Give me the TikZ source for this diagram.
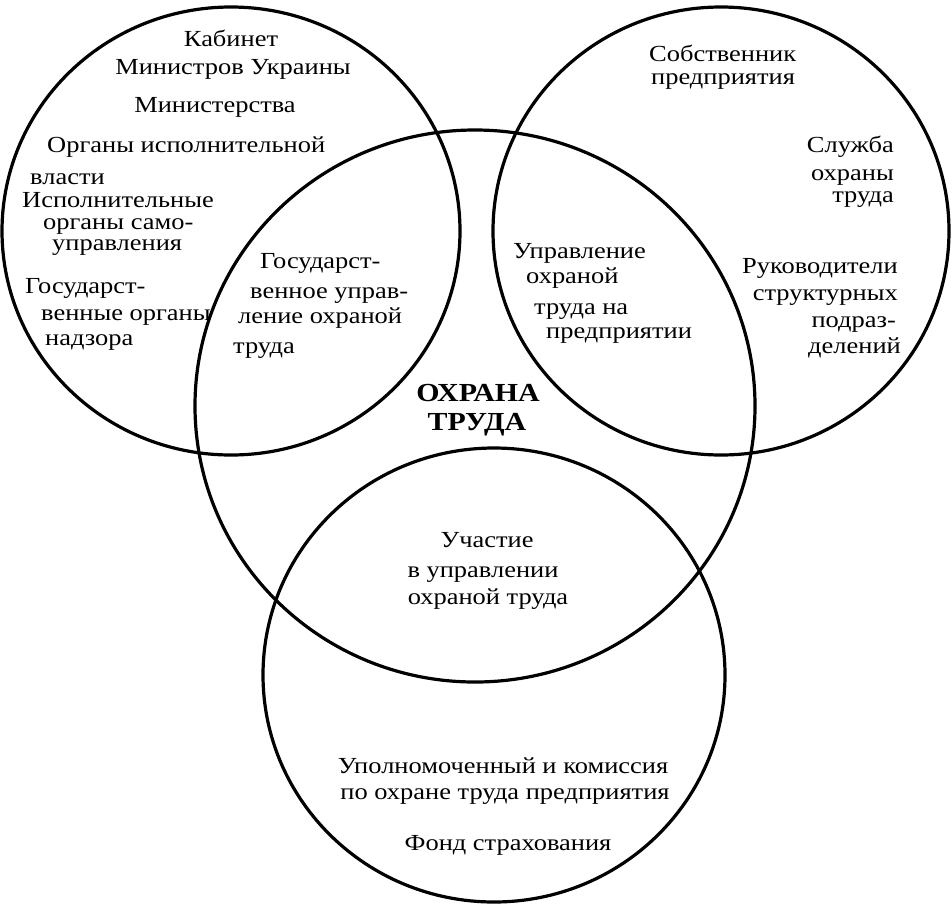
\documentclass[tikz,border=0pt]{standalone}
\usepackage{fontspec}
\setmainfont{Liberation Serif}[FakeStretch=1.15]
\begin{document}
\begin{tikzpicture}[x=1pt,y=-1pt,
  ring/.style={draw=black,line width=3.2pt},
  lbl/.style={inner sep=0pt,font=\fontsize{23}{26}\selectfont},
  lw/.style={lbl,anchor=base west},
  le/.style={lbl,anchor=base east},
  lc/.style={lbl,anchor=base},
  big/.style={inner sep=0pt,anchor=base,font=\fontsize{26}{28}\selectfont\bfseries}]
\useasboundingbox (0,0) rectangle (952,906);
% circles
\draw[ring] (231,231) ellipse [x radius=229pt, y radius=224pt];
\draw[ring] (721,231) ellipse [x radius=228pt, y radius=224pt];
\draw[ring] (475,406) ellipse [x radius=280pt, y radius=276pt];
\draw[ring] (494,675) ellipse [x radius=231pt, y radius=227pt];
% left circle
\node[lc] (a1) at (231,46) {Кабинет};
\node[lc] (a2) at (233,74) {Министров Украины};
\node[lc] (a3) at (215,112) {Министерства};
\node[lw] (a4) at (47,152) {Органы исполнительной};
\node[lw] (a5) at (30,184) {власти};
\node[lw] (a6) at (22,207) {Исполнительные};
\node[lw] (a7) at (43,229) {органы само-};
\node[lw] (a8) at (52,250) {управления};
\node[lw] (a9) at (25,293) {Государст-};
\node[lw] (a10) at (41,320) {венные органы};
\node[lw] (a11) at (45,345) {надзора};
% left-centre overlap
\node[lw] (b1) at (260,268) {Государст-};
\node[lw] (b2) at (250,298) {венное управ-};
\node[lw] (b3) at (238,323) {ление охраной};
\node[lw] (b4) at (233,353) {труда};
% right circle
\node[lw] (c1) at (649,61) {Собственник};
\node[lw] (c2) at (651,84) {предприятия};
\node[le] (c3) at (894,152) {Служба};
\node[le] (c4) at (894,180) {охраны};
\node[le] (c5) at (894,202) {труда};
\node[le] (c6) at (898,273) {Руководители};
\node[le] (c7) at (898,300) {структурных};
\node[le] (c8) at (896,327) {подраз-};
\node[le] (c9) at (901,353) {делений};
% right-centre overlap
\node[lw] (d1) at (513,258) {Управление};
\node[lw] (d2) at (526,283) {охраной};
\node[lw] (d3) at (534,314) {труда на};
\node[lw] (d4) at (546,338) {предприятии};
% centre
\node[big] (e1) at (478,401) {ОХРАНА};
\node[big] (e2) at (477,430) {ТРУДА};
% centre-bottom overlap
\node[lc] (f1) at (487,547) {Участие};
\node[lc] (f2) at (483,577) {в управлении};
\node[lc] (f3) at (488,604) {охраной труда};
% bottom circle
\node[lc] (g1) at (503,773) {Уполномоченный и комиссия};
\node[lc] (g2) at (505,799) {по охране труда предприятия};
\node[lc] (g3) at (508,850) {Фонд страхования};
\end{tikzpicture}
\end{document}
